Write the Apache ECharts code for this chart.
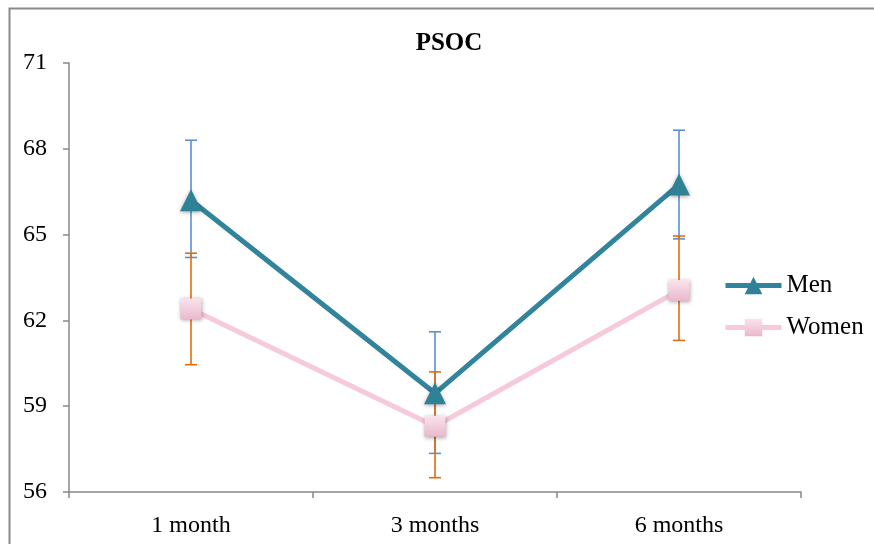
<!DOCTYPE html>
<html>
<head>
<meta charset="utf-8">
<script src="https://cdn.jsdelivr.net/npm/echarts@6/dist/echarts.min.js"></script>
<style>html,body{margin:0;padding:0;background:#fff}#c{width:874px;height:544px}</style>
</head>
<body>
<div id="c"></div>
<script>
var categories = ['1 month', '3 months', '6 months'];
var menValues = [66.2, 59.45, 66.75];
var menLow = [64.2, 57.35, 64.85];
var menHigh = [68.3, 61.6, 68.65];
var womenValues = [62.4, 58.3, 63.05];
var womenLow = [60.45, 56.5, 61.3];
var womenHigh = [64.35, 60.2, 64.95];
var yTicks = [56, 59, 62, 65, 68, 71];

var serif = '"Liberation Serif", "Times New Roman", serif';

function errData(low, high) {
  return categories.map(function (c, i) { return [i, low[i], high[i]]; });
}
function errSeries(name, low, high, color) {
  return {
    type: 'custom',
    name: name,
    z: 1,
    silent: true,
    data: errData(low, high),
    renderItem: function (params, api) {
      var x = api.value(0);
      var lo = api.coord([x, api.value(1)]);
      var hi = api.coord([x, api.value(2)]);
      var w = 6;
      var st = { stroke: color, lineWidth: 1.6 };
      return {
        type: 'group',
        children: [
          { type: 'line', shape: { x1: lo[0], y1: lo[1], x2: hi[0], y2: hi[1] }, style: st },
          { type: 'line', shape: { x1: lo[0] - w, y1: lo[1], x2: lo[0] + w, y2: lo[1] }, style: st },
          { type: 'line', shape: { x1: hi[0] - w, y1: hi[1], x2: hi[0] + w, y2: hi[1] }, style: st }
        ]
      };
    }
  };
}

var chart = echarts.init(document.getElementById('c'));
chart.setOption({
  animation: false,
  backgroundColor: '#fff',
  graphic: [{
    type: 'rect',
    shape: { x: 9.5, y: 8.5, width: 900, height: 600 },
    style: { fill: 'none', stroke: '#8a8a8a', lineWidth: 2 },
    z: -10
  }],
  title: {
    text: 'PSOC',
    left: 444, top: 26, textAlign: 'center',
    textStyle: { fontFamily: serif, fontWeight: 'bold', fontSize: 25, color: '#000' }
  },
  legend: {
    orient: 'vertical',
    left: 718, top: 268,
    itemWidth: 56, itemHeight: 22, itemGap: 17,
    data: ['Men', 'Women'],
    lineStyle: { width: 5 },
    textStyle: { fontFamily: serif, fontSize: 25, color: '#000' }
  },
  grid: { left: 69, right: 73, top: 63, bottom: 52 },
  xAxis: {
    type: 'category',
    data: categories,
    boundaryGap: true,
    axisLine: { lineStyle: { color: '#888', width: 1.5 } },
    axisTick: { show: true, interval: 0, length: 6, lineStyle: { color: '#888', width: 1.5 } },
    axisLabel: { margin: 22, fontFamily: serif, fontSize: 24, color: '#000' }
  },
  yAxis: {
    type: 'value',
    min: yTicks[0], max: yTicks[yTicks.length - 1], interval: 3,
    axisLine: { show: true, lineStyle: { color: '#888', width: 1.5 } },
    axisTick: { show: true, length: 6, lineStyle: { color: '#888', width: 1.5 } },
    splitLine: { show: false },
    axisLabel: { margin: 22, fontFamily: serif, fontSize: 24, color: '#000' }
  },
  series: [
    errSeries('menErr', menLow, menHigh, '#5a8fd6'),
    errSeries('womenErr', womenLow, womenHigh, '#e46c0a'),
    {
      name: 'Men', type: 'line', z: 3, data: menValues,
      symbol: 'triangle', symbolSize: 22,
      lineStyle: { color: '#31849b', width: 5 },
      itemStyle: { color: '#2f8296', shadowBlur: 4, shadowColor: 'rgba(0,0,0,0.35)', shadowOffsetY: 1 }
    },
    {
      name: 'Women', type: 'line', z: 2, data: womenValues,
      symbol: 'rect', symbolSize: 21,
      lineStyle: { color: '#f6c9dd', width: 5 },
      itemStyle: {
        color: new echarts.graphic.LinearGradient(0, 0, 0, 1, [
          { offset: 0, color: '#fbe3ee' }, { offset: 1, color: '#e9b8cc' }
        ]),
        shadowBlur: 4, shadowColor: 'rgba(0,0,0,0.35)', shadowOffsetY: 1
      }
    }
  ]
});
</script>
</body>
</html>
